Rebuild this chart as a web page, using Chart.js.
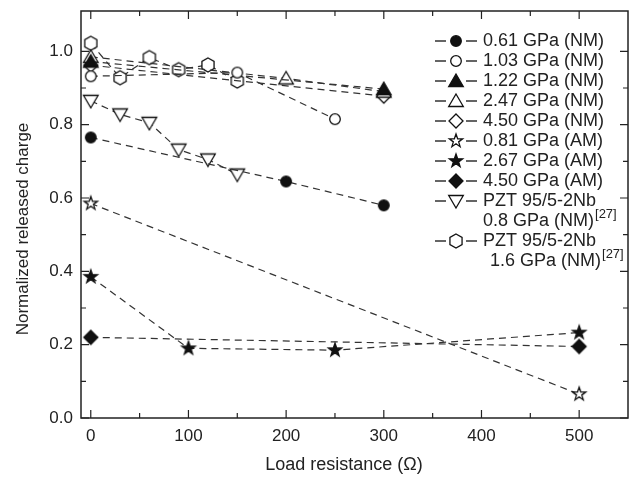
<!DOCTYPE html>
<html>
<head>
<meta charset="utf-8">
<script src="https://cdn.jsdelivr.net/npm/chart.js@4.4.1/dist/chart.umd.min.js"></script>
<style>
  html, body { margin: 0; padding: 0; background: #fff; }
  #wrap { width: 637px; height: 479px; }
</style>
</head>
<body>
<div id="wrap"><canvas id="chart" width="637" height="479"></canvas></div>
<script>
// data (load resistance in ohm, normalized released charge)
const x061NM = [0, 200, 300];
const y061NM = [0.765, 0.645, 0.58];
const x103NM = [0, 150, 250];
const y103NM = [0.932, 0.942, 0.815];
const x122NM = [0, 300];
const y122NM = [0.972, 0.897];
const x247NM = [0, 200, 300];
const y247NM = [0.985, 0.926, 0.89];
const x450NM = [0, 300];
const y450NM = [0.962, 0.878];
const x081AM = [0, 500];
const y081AM = [0.585, 0.065];
const x267AM = [0, 100, 250, 500];
const y267AM = [0.385, 0.19, 0.185, 0.233];
const x450AM = [0, 500];
const y450AM = [0.22, 0.195];
const xPZT08 = [0, 30, 60, 90, 120, 150];
const yPZT08 = [0.865, 0.828, 0.805, 0.732, 0.705, 0.664];
const xPZT16 = [0, 30, 60, 90, 120, 150];
const yPZT16 = [1.022, 0.928, 0.983, 0.95, 0.963, 0.919];

const legendLabels = [
  ["0.61 GPa (NM)"], ["1.03 GPa (NM)"], ["1.22 GPa (NM)"], ["2.47 GPa (NM)"],
  ["4.50 GPa (NM)"], ["0.81 GPa (AM)"], ["2.67 GPa (AM)"], ["4.50 GPa (AM)"],
  ["PZT 95/5-2Nb", "0.8 GPa (NM)"], ["PZT 95/5-2Nb", "1.6 GPa (NM)"]
];
const refMark = "[27]";

const xTicks = [0, 100, 200, 300, 400, 500];
const xMinor = [50, 150, 250, 350, 450];
const yTicks = [0, 0.2, 0.4, 0.6, 0.8, 1.0];
const yMinor = [0.1, 0.3, 0.5, 0.7, 0.9];

const FONT = "'Liberation Sans', Arial, sans-serif";
const INK = "#222";

function makeMarker(shape, filled) {
  const s = 20, c = document.createElement("canvas");
  c.width = s; c.height = s;
  const g = c.getContext("2d");
  g.translate(s / 2, s / 2);
  g.beginPath();
  if (shape === "circle") {
    g.arc(0, 0, 5.3, 0, Math.PI * 2);
  } else if (shape === "triangle") {
    g.moveTo(0, -7); g.lineTo(7.3, 5.5); g.lineTo(-7.3, 5.5); g.closePath();
  } else if (shape === "triangleDown") {
    g.moveTo(0, 7); g.lineTo(7.3, -5.5); g.lineTo(-7.3, -5.5); g.closePath();
  } else if (shape === "diamond") {
    g.moveTo(0, -7); g.lineTo(7, 0); g.lineTo(0, 7); g.lineTo(-7, 0); g.closePath();
  } else if (shape === "star") {
    for (let i = 0; i < 10; i++) {
      const r = i % 2 ? 2.8 : 7, a = -Math.PI / 2 + i * Math.PI / 5;
      const px = r * Math.cos(a), py = r * Math.sin(a);
      i ? g.lineTo(px, py) : g.moveTo(px, py);
    }
    g.closePath();
  } else if (shape === "hexagon") {
    for (let i = 0; i < 6; i++) {
      const a = -Math.PI / 2 + i * Math.PI / 3;
      const px = 7 * Math.cos(a), py = 7 * Math.sin(a);
      i ? g.lineTo(px, py) : g.moveTo(px, py);
    }
    g.closePath();
  }
  g.fillStyle = filled ? "#111" : "#fff";
  g.fill();
  g.lineWidth = 1.3;
  g.strokeStyle = "#111";
  g.stroke();
  return c;
}

function pts(xs, ys) {
  return xs.map((x, i) => ({ x: x, y: ys[i] }));
}

const series = [
  [x061NM, y061NM, makeMarker("circle", true)],
  [x103NM, y103NM, makeMarker("circle", false)],
  [x122NM, y122NM, makeMarker("triangle", true)],
  [x247NM, y247NM, makeMarker("triangle", false)],
  [x450NM, y450NM, makeMarker("diamond", false)],
  [x081AM, y081AM, makeMarker("star", false)],
  [x267AM, y267AM, makeMarker("star", true)],
  [x450AM, y450AM, makeMarker("diamond", true)],
  [xPZT08, yPZT08, makeMarker("triangleDown", false)],
  [xPZT16, yPZT16, makeMarker("hexagon", false)]
];

const datasets = series.map((s, i) => ({
  label: legendLabels[i].join(" "),
  data: pts(s[0], s[1]),
  pointStyle: s[2],
  borderColor: "#333",
  borderWidth: 1.2,
  borderDash: [7, 5],
  fill: false,
  tension: 0
}));

// frame, inward ticks, legend and axis titles
const overlay = {
  id: "overlay",
  afterDraw(chart) {
    const ctx = chart.ctx, a = chart.chartArea;
    const xs = chart.scales.x, ys = chart.scales.y;
    ctx.save();
    ctx.strokeStyle = INK;
    ctx.lineWidth = 1.5;
    ctx.strokeRect(a.left, a.top, a.right - a.left, a.bottom - a.top);

    ctx.lineWidth = 1.2;
    ctx.beginPath();
    const xt = (v, len) => {
      const p = xs.getPixelForValue(v);
      ctx.moveTo(p, a.bottom); ctx.lineTo(p, a.bottom - len);
      ctx.moveTo(p, a.top); ctx.lineTo(p, a.top + len);
    };
    const yt = (v, len) => {
      const p = ys.getPixelForValue(v);
      ctx.moveTo(a.left, p); ctx.lineTo(a.left + len, p);
      ctx.moveTo(a.right, p); ctx.lineTo(a.right - len, p);
    };
    xTicks.forEach(v => xt(v, 8));
    xMinor.forEach(v => xt(v, 5));
    yTicks.forEach(v => yt(v, 8));
    yMinor.forEach(v => yt(v, 5));
    ctx.stroke();

    // legend
    ctx.fillStyle = INK;
    ctx.textBaseline = "middle";
    ctx.textAlign = "left";
    let row = 41;
    series.forEach((s, i) => {
      ctx.beginPath();
      ctx.strokeStyle = "#333";
      ctx.lineWidth = 1.3;
      ctx.moveTo(435, row); ctx.lineTo(446, row);
      ctx.moveTo(466, row); ctx.lineTo(477, row);
      ctx.stroke();
      ctx.drawImage(s[2], 456 - s[2].width / 2, row - s[2].height / 2);
      const lines = legendLabels[i];
      ctx.font = "18px " + FONT;
      ctx.fillText(lines[0], 483, row);
      if (lines.length > 1) {
        row += 20;
        const lx = i === 8 ? 483 : 490;
        ctx.font = "18px " + FONT;
        ctx.fillText(lines[1], lx, row);
        const w = ctx.measureText(lines[1]).width;
        ctx.font = "13px " + FONT;
        ctx.fillText(refMark, lx + w + 1, row - 7);
      }
      row += 20;
    });

    // axis titles
    ctx.font = "18px " + FONT;
    ctx.textAlign = "center";
    ctx.fillText("Load resistance (\u03A9)", 344, 465);
    ctx.font = "17px " + FONT;
    ctx.translate(23, 229);
    ctx.rotate(-Math.PI / 2);
    ctx.fillText("Normalized released charge", 0, 0);
    ctx.restore();
  }
};

new Chart(document.getElementById("chart"), {
  type: "line",
  data: { datasets: datasets },
  options: {
    responsive: false,
    animation: false,
    layout: { padding: { top: 11, right: 9, left: 0, bottom: 0 } },
    plugins: {
      legend: { display: false },
      tooltip: { enabled: false }
    },
    scales: {
      x: {
        type: "linear",
        min: -10,
        max: 550,
        grid: { display: false, drawTicks: false },
        border: { display: false },
        afterFit: s => { s.height = 61; s.paddingLeft = 0; s.paddingRight = 0; },
        afterBuildTicks: s => { s.ticks = xTicks.map(v => ({ value: v })); },
        ticks: { padding: 8, color: INK, font: { family: FONT, size: 17 } }
      },
      y: {
        type: "linear",
        min: 0,
        max: 1.11,
        grid: { display: false, drawTicks: false },
        border: { display: false },
        afterFit: s => { s.width = 81; s.paddingTop = 0; s.paddingBottom = 0; },
        afterBuildTicks: s => { s.ticks = yTicks.map(v => ({ value: v })); },
        ticks: {
          padding: 8, color: INK, font: { family: FONT, size: 17 },
          callback: v => v.toFixed(1)
        }
      }
    }
  },
  plugins: [overlay]
});
</script>
</body>
</html>
